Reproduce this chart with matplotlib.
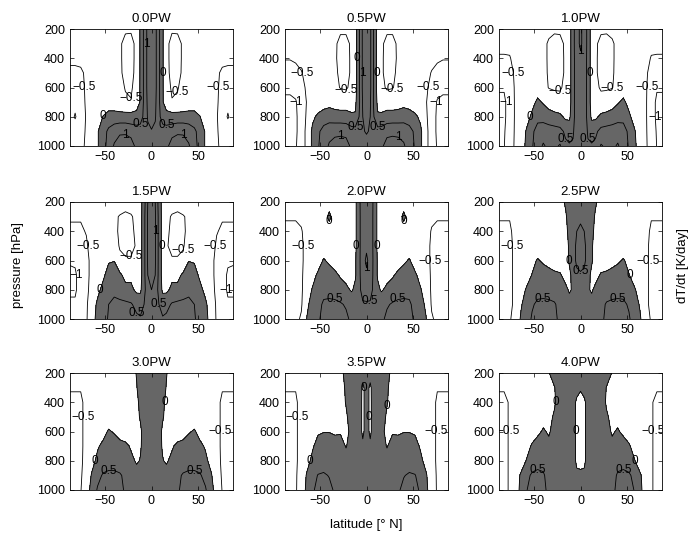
import numpy as np
import matplotlib.pyplot as plt

plt.rcParams['font.family'] = ['Liberation Sans', 'DejaVu Sans']

# latitude (deg N) for one hemisphere, mirrored about the equator when drawn
lat_half = [0, 4, 8, 12, 16, 22, 28, 34, 40, 46, 52, 58, 64, 70, 76, 82, 88]
pressure = [200, 300, 400, 500, 600, 700, 800, 900, 1000]
titles = ['0.0PW', '0.5PW', '1.0PW', '1.5PW', '2.0PW', '2.5PW', '3.0PW', '3.5PW', '4.0PW']
line_levels = [-1, -0.5, 0, 0.5, 1]

# dT/dt [K/day], rows = pressure levels (200 -> 1000 hPa), cols = lat_half
dtdt_00 = [
    [1.4, 1.15, 0.6, 0.05, -0.35, -0.45, -0.45, -0.35, -0.3, -0.25, -0.25, -0.25, -0.25, -0.25, -0.3, -0.3, -0.3],
    [1.4, 1.15, 0.6, 0.05, -0.4, -0.62, -0.6, -0.45, -0.3, -0.25, -0.25, -0.25, -0.25, -0.3, -0.35, -0.4, -0.4],
    [1.4, 1.15, 0.6, 0.05, -0.4, -0.62, -0.6, -0.45, -0.3, -0.25, -0.25, -0.25, -0.3, -0.35, -0.42, -0.42, -0.42],
    [1.4, 1.15, 0.6, 0.05, -0.4, -0.6, -0.58, -0.45, -0.3, -0.25, -0.25, -0.25, -0.3, -0.45, -0.55, -0.58, -0.58],
    [1.4, 1.15, 0.6, 0.05, -0.35, -0.55, -0.52, -0.4, -0.3, -0.25, -0.25, -0.3, -0.35, -0.45, -0.6, -0.7, -0.65],
    [1.35, 1.1, 0.6, 0.05, -0.3, -0.48, -0.45, -0.38, -0.3, -0.3, -0.3, -0.35, -0.4, -0.45, -0.65, -0.85, -0.7],
    [1.3, 1.05, 0.6, 0.3, 0.22, 0.2, 0.2, 0.2, 0.2, 0.2, 0.02, -0.3, -0.4, -0.47, -0.7, -1.05, -0.75],
    [0.95, 0.9, 0.8, 0.7, 0.7, 0.8, 0.9, 0.9, 0.8, 0.6, 0.3, -0.05, -0.35, -0.47, -0.6, -0.7, -0.6],
    [0.8, 0.8, 0.75, 0.75, 0.85, 1.25, 1.35, 1.3, 1.05, 0.7, 0.3, -0.05, -0.35, -0.47, -0.55, -0.55, -0.52],
]
dtdt_05 = [
    [1.4, 1.1, 0.4, -0.2, -0.4, -0.45, -0.45, -0.4, -0.3, -0.3, -0.3, -0.3, -0.3, -0.3, -0.35, -0.4, -0.4],
    [1.4, 1.1, 0.4, -0.2, -0.45, -0.58, -0.58, -0.45, -0.3, -0.3, -0.3, -0.3, -0.3, -0.35, -0.4, -0.45, -0.45],
    [1.4, 1.1, 0.4, -0.2, -0.45, -0.6, -0.6, -0.45, -0.3, -0.3, -0.3, -0.3, -0.35, -0.4, -0.45, -0.48, -0.48],
    [1.4, 1.1, 0.4, -0.2, -0.45, -0.6, -0.58, -0.42, -0.3, -0.3, -0.3, -0.35, -0.4, -0.52, -0.6, -0.65, -0.65],
    [1.4, 1.1, 0.4, -0.2, -0.4, -0.55, -0.52, -0.4, -0.3, -0.3, -0.3, -0.35, -0.45, -0.6, -0.8, -0.9, -0.9],
    [1.35, 1.05, 0.4, -0.1, -0.25, -0.25, -0.25, -0.2, -0.15, -0.2, -0.3, -0.38, -0.48, -0.7, -1.05, -1.1, -1.1],
    [1.3, 1.0, 0.5, 0.05, 0.1, 0.2, 0.2, 0.2, 0.25, 0.2, 0.1, -0.1, -0.45, -0.7, -1.1, -1.2, -1.2],
    [1.05, 0.95, 0.85, 0.7, 0.7, 0.85, 0.9, 0.9, 0.85, 0.7, 0.4, 0.1, -0.4, -0.7, -1.1, -1.2, -1.2],
    [0.8, 0.8, 0.8, 0.8, 0.9, 1.2, 1.2, 1.15, 1.05, 0.8, 0.45, 0.1, -0.4, -0.7, -1.05, -1.1, -1.1],
]
dtdt_10 = [
    [1.05, 0.9, 0.3, -0.2, -0.4, -0.45, -0.45, -0.4, -0.3, -0.3, -0.3, -0.3, -0.3, -0.35, -0.4, -0.4, -0.4],
    [1.05, 0.9, 0.3, -0.2, -0.45, -0.58, -0.6, -0.55, -0.4, -0.3, -0.3, -0.3, -0.3, -0.35, -0.42, -0.42, -0.42],
    [0.95, 0.85, 0.3, -0.2, -0.45, -0.6, -0.62, -0.55, -0.4, -0.3, -0.3, -0.3, -0.3, -0.4, -0.52, -0.53, -0.53],
    [0.9, 0.8, 0.3, -0.2, -0.45, -0.6, -0.6, -0.55, -0.38, -0.3, -0.3, -0.3, -0.35, -0.45, -0.6, -0.7, -0.7],
    [0.9, 0.8, 0.3, -0.2, -0.4, -0.55, -0.55, -0.52, -0.35, -0.25, -0.3, -0.3, -0.35, -0.45, -0.7, -0.95, -0.95],
    [0.9, 0.8, 0.3, -0.2, -0.3, -0.35, -0.3, -0.2, -0.05, 0.1, -0.15, -0.3, -0.35, -0.45, -0.75, -1.1, -1.1],
    [0.85, 0.75, 0.35, -0.1, -0.1, 0.1, 0.15, 0.2, 0.3, 0.35, 0.1, -0.2, -0.35, -0.45, -0.75, -1.1, -1.1],
    [0.8, 0.75, 0.45, 0.3, 0.4, 0.65, 0.7, 0.75, 0.8, 0.7, 0.4, 0.05, -0.3, -0.45, -0.7, -1.05, -1.05],
    [0.6, 0.6, 0.55, 0.55, 0.6, 1.05, 0.9, 0.9, 1.05, 0.8, 0.45, 0.1, -0.25, -0.45, -0.65, -1.02, -1.02],
]
dtdt_15 = [
    [1.2, 1.0, 0.3, -0.2, -0.35, -0.4, -0.4, -0.35, -0.3, -0.3, -0.3, -0.3, -0.3, -0.3, -0.3, -0.3, -0.3],
    [1.2, 1.05, 0.35, -0.2, -0.45, -0.52, -0.55, -0.52, -0.45, -0.3, -0.3, -0.3, -0.35, -0.45, -0.47, -0.47, -0.47],
    [1.2, 1.05, 0.35, -0.2, -0.45, -0.55, -0.58, -0.55, -0.42, -0.3, -0.3, -0.3, -0.35, -0.48, -0.55, -0.55, -0.55],
    [1.2, 1.05, 0.35, -0.2, -0.48, -0.55, -0.55, -0.52, -0.4, -0.3, -0.3, -0.3, -0.35, -0.55, -0.6, -0.65, -0.65],
    [1.2, 1.05, 0.35, -0.2, -0.4, -0.48, -0.48, -0.45, -0.02, -0.05, -0.3, -0.35, -0.4, -0.6, -0.8, -0.95, -0.95],
    [1.1, 1.0, 0.35, -0.2, -0.15, -0.1, -0.15, 0.1, 0.3, 0.2, -0.1, -0.3, -0.4, -0.6, -0.85, -1.05, -1.1],
    [1.0, 0.8, 0.35, -0.1, -0.1, 0.1, 0.15, 0.3, 0.4, 0.35, 0.15, -0.15, -0.35, -0.6, -0.85, -1.05, -1.05],
    [0.85, 0.75, 0.5, 0.3, 0.35, 0.55, 0.6, 0.6, 0.6, 0.5, 0.3, 0.1, -0.3, -0.55, -0.8, -0.95, -0.95],
    [0.7, 0.7, 0.6, 0.55, 0.6, 0.8, 0.85, 0.8, 0.75, 0.55, 0.3, 0.15, -0.2, -0.55, -0.75, -0.9, -0.9],
]
dtdt_20 = [
    [1.0, 0.9, 0.35, -0.1, -0.25, -0.3, -0.3, -0.3, -0.3, -0.3, -0.3, -0.3, -0.3, -0.35, -0.4, -0.42, -0.42],
    [0.9, 0.85, 0.35, -0.1, -0.25, -0.3, -0.3, -0.3, 0.15, -0.3, -0.3, -0.3, -0.35, -0.45, -0.48, -0.48, -0.48],
    [0.9, 0.85, 0.35, -0.1, -0.25, -0.3, -0.3, -0.3, -0.3, -0.3, -0.3, -0.3, -0.4, -0.52, -0.55, -0.55, -0.55],
    [0.95, 0.85, 0.35, -0.1, -0.25, -0.3, -0.3, -0.3, -0.3, -0.3, -0.3, -0.3, -0.4, -0.55, -0.6, -0.6, -0.6],
    [1.05, 0.9, 0.35, -0.05, -0.2, -0.25, -0.25, -0.2, -0.1, 0.05, -0.25, -0.3, -0.4, -0.55, -0.6, -0.65, -0.65],
    [0.95, 0.85, 0.35, -0.05, -0.1, -0.15, -0.05, 0.1, 0.25, 0.3, 0.1, -0.2, -0.35, -0.55, -0.6, -0.7, -0.7],
    [0.7, 0.65, 0.4, 0.1, -0.05, 0.1, 0.2, 0.3, 0.35, 0.4, 0.3, 0.05, -0.3, -0.55, -0.6, -0.7, -0.7],
    [0.45, 0.45, 0.35, 0.3, 0.3, 0.45, 0.55, 0.6, 0.6, 0.55, 0.4, 0.2, -0.1, -0.55, -0.6, -0.65, -0.65],
    [0.4, 0.4, 0.35, 0.35, 0.4, 0.6, 0.65, 0.7, 0.7, 0.6, 0.45, 0.3, 0.02, -0.45, -0.6, -0.6, -0.6],
]
dtdt_25 = [
    [0.4, 0.35, 0.3, 0.2, 0.05, -0.15, -0.25, -0.3, -0.3, -0.3, -0.3, -0.3, -0.3, -0.35, -0.4, -0.42, -0.42],
    [0.45, 0.4, 0.3, 0.15, -0.05, -0.2, -0.3, -0.3, -0.3, -0.3, -0.3, -0.3, -0.3, -0.35, -0.48, -0.48, -0.48],
    [0.55, 0.5, 0.3, 0.1, -0.1, -0.25, -0.3, -0.3, -0.3, -0.3, -0.3, -0.3, -0.3, -0.4, -0.55, -0.55, -0.55],
    [0.65, 0.6, 0.3, 0.05, -0.15, -0.25, -0.3, -0.3, -0.3, -0.3, -0.3, -0.3, -0.3, -0.42, -0.58, -0.6, -0.6],
    [0.65, 0.6, 0.3, 0.05, -0.15, -0.25, -0.25, -0.2, -0.1, 0.05, -0.15, -0.3, -0.3, -0.42, -0.58, -0.6, -0.6],
    [0.45, 0.4, 0.15, -0.1, -0.15, 0.05, 0.1, 0.2, 0.3, 0.3, 0.02, -0.2, -0.3, -0.42, -0.58, -0.6, -0.6],
    [0.3, 0.25, 0.05, -0.05, 0.1, 0.2, 0.25, 0.3, 0.35, 0.35, 0.25, 0.05, -0.2, -0.42, -0.58, -0.6, -0.6],
    [0.3, 0.3, 0.2, 0.15, 0.2, 0.35, 0.55, 0.6, 0.6, 0.58, 0.45, 0.2, -0.05, -0.42, -0.58, -0.6, -0.6],
    [0.3, 0.3, 0.25, 0.2, 0.25, 0.4, 0.6, 0.65, 0.65, 0.6, 0.55, 0.3, 0.05, -0.3, -0.55, -0.6, -0.6],
]
dtdt_30 = [
    [0.5, 0.45, 0.35, 0.25, 0.02, -0.15, -0.25, -0.3, -0.3, -0.3, -0.3, -0.3, -0.3, -0.35, -0.45, -0.48, -0.48],
    [0.45, 0.4, 0.3, 0.15, -0.02, -0.2, -0.25, -0.3, -0.3, -0.3, -0.3, -0.3, -0.3, -0.38, -0.48, -0.48, -0.48],
    [0.4, 0.35, 0.3, 0.1, -0.1, -0.2, -0.25, -0.3, -0.3, -0.3, -0.3, -0.3, -0.3, -0.42, -0.55, -0.55, -0.55],
    [0.4, 0.35, 0.25, 0.05, -0.15, -0.2, -0.25, -0.25, -0.25, -0.25, -0.25, -0.3, -0.3, -0.42, -0.55, -0.58, -0.58],
    [0.4, 0.35, 0.2, -0.1, -0.15, -0.2, -0.25, -0.2, -0.05, 0.05, -0.15, -0.3, -0.3, -0.42, -0.55, -0.6, -0.6],
    [0.35, 0.3, 0.15, -0.05, -0.1, -0.05, 0.1, 0.15, 0.25, 0.3, 0.1, -0.05, -0.25, -0.42, -0.55, -0.6, -0.6],
    [0.3, 0.25, 0.15, 0.02, -0.05, 0.1, 0.2, 0.25, 0.3, 0.3, 0.25, 0.1, -0.15, -0.4, -0.55, -0.6, -0.6],
    [0.3, 0.3, 0.25, 0.2, 0.15, 0.25, 0.4, 0.55, 0.6, 0.6, 0.55, 0.35, 0.05, -0.3, -0.55, -0.6, -0.6],
    [0.3, 0.3, 0.3, 0.25, 0.2, 0.3, 0.45, 0.6, 0.65, 0.65, 0.6, 0.55, 0.15, -0.2, -0.52, -0.6, -0.6],
]
dtdt_35 = [
    [0.3, 0.2, 0.3, 0.3, 0.25, 0.1, -0.1, -0.2, -0.25, -0.25, -0.25, -0.25, -0.3, -0.35, -0.45, -0.48, -0.48],
    [0.2, -0.1, 0.3, 0.3, 0.2, 0.05, -0.15, -0.2, -0.25, -0.25, -0.25, -0.25, -0.3, -0.35, -0.48, -0.48, -0.48],
    [0.2, -0.1, 0.25, 0.25, 0.15, 0.02, -0.15, -0.2, -0.2, -0.2, -0.2, -0.25, -0.3, -0.38, -0.55, -0.55, -0.55],
    [0.2, -0.1, 0.25, 0.25, 0.15, -0.05, -0.15, -0.15, -0.15, -0.15, -0.15, -0.2, -0.3, -0.38, -0.55, -0.58, -0.58],
    [0.2, -0.1, 0.25, 0.25, 0.1, -0.1, -0.05, -0.05, -0.02, -0.02, -0.05, -0.25, -0.3, -0.38, -0.55, -0.6, -0.6],
    [0.3, 0.1, 0.3, 0.3, 0.2, -0.03, 0.2, 0.15, 0.25, 0.25, 0.15, -0.05, -0.3, -0.38, -0.55, -0.6, -0.6],
    [0.35, 0.35, 0.35, 0.35, 0.35, 0.2, 0.25, 0.25, 0.3, 0.3, 0.25, 0.1, -0.15, -0.38, -0.55, -0.6, -0.6],
    [0.35, 0.35, 0.35, 0.35, 0.35, 0.3, 0.3, 0.35, 0.48, 0.55, 0.52, 0.35, 0.05, -0.3, -0.55, -0.6, -0.6],
    [0.35, 0.35, 0.35, 0.35, 0.35, 0.3, 0.3, 0.45, 0.6, 0.65, 0.6, 0.45, 0.1, -0.25, -0.55, -0.6, -0.6],
]
dtdt_40 = [
    [0.3, 0.3, 0.3, 0.3, 0.3, 0.3, 0.2, -0.02, -0.15, -0.25, -0.25, -0.25, -0.3, -0.35, -0.4, -0.45, -0.45],
    [0.05, 0.2, 0.3, 0.3, 0.3, 0.25, -0.02, -0.1, -0.15, -0.2, -0.25, -0.25, -0.3, -0.35, -0.42, -0.48, -0.48],
    [-0.15, -0.1, 0.2, 0.3, 0.3, 0.2, -0.05, -0.1, -0.15, -0.2, -0.2, -0.25, -0.3, -0.35, -0.48, -0.55, -0.55],
    [-0.2, -0.1, 0.2, 0.3, 0.3, 0.25, 0.05, -0.1, -0.15, -0.2, -0.2, -0.25, -0.3, -0.35, -0.48, -0.55, -0.55],
    [-0.2, -0.1, 0.2, 0.3, 0.3, 0.3, 0.15, -0.05, 0.05, -0.1, -0.2, -0.25, -0.3, -0.35, -0.48, -0.55, -0.55],
    [-0.2, -0.1, 0.2, 0.3, 0.3, 0.3, 0.25, 0.1, 0.25, 0.2, 0.05, -0.15, -0.3, -0.35, -0.48, -0.55, -0.55],
    [-0.15, -0.1, 0.2, 0.3, 0.3, 0.3, 0.3, 0.3, 0.35, 0.35, 0.2, 0.02, -0.2, -0.35, -0.48, -0.55, -0.55],
    [0.1, 0.1, 0.25, 0.3, 0.3, 0.3, 0.3, 0.35, 0.55, 0.6, 0.58, 0.35, 0.05, -0.2, -0.48, -0.55, -0.55],
    [0.2, 0.2, 0.25, 0.3, 0.3, 0.3, 0.3, 0.4, 0.6, 0.65, 0.65, 0.48, 0.1, -0.2, -0.48, -0.55, -0.55],
]
panels = [dtdt_00, dtdt_05, dtdt_10, dtdt_15, dtdt_20, dtdt_25, dtdt_30, dtdt_35, dtdt_40]

lat = np.concatenate([-np.array(lat_half[:0:-1]), lat_half])


def mirror(half):
    half = np.array(half)
    return np.hstack([half[:, :0:-1], half])


def fmt(v):
    return f'{v:g}'.replace('-', '\u2212')


fig = plt.figure(figsize=(6.99, 5.38), dpi=100)
W, H = 699.0, 538.0
lefts = [70, 285, 499]
tops = [29, 202, 373]

for i, (data, title) in enumerate(zip(panels, titles)):
    r, c = divmod(i, 3)
    ax = fig.add_axes([lefts[c] / W, 1 - (tops[r] + 117) / H, 163 / W, 117 / H])
    z = mirror(data)
    ax.contourf(lat, pressure, z, levels=[0, 10], colors=['#666666'])
    cs = ax.contour(lat, pressure, z, levels=line_levels, colors='k',
                    linewidths=0.6, linestyles='solid')
    labels = ax.clabel(cs, fmt=fmt, fontsize=8.5, inline=False)
    for t in labels:
        t.set_rotation(0)
    ax.set_xlim(-87.5, 87.5)
    ax.set_ylim(1000, 200)
    ax.set_xticks([-50, 0, 50])
    ax.set_yticks([200, 400, 600, 800, 1000])
    ax.set_xticklabels([fmt(v) for v in [-50, 0, 50]])
    ax.tick_params(direction='in', top=True, right=True, length=3,
                   width=0.5, labelsize=9)
    for s in ax.spines.values():
        s.set_linewidth(0.6)
    ax.set_title(title, fontsize=9.5, pad=5)

fig.text(0.026, 0.507, 'pressure [hPa]', rotation=90, ha='center', va='center', fontsize=9.5)
fig.text(0.977, 0.507, 'dT/dt [K/day]', rotation=90, ha='center', va='center', fontsize=9.5)
fig.text(0.524, 0.024, 'latitude [\u00b0 N]', ha='center', va='center', fontsize=9.5)

fig.savefig('out.png', dpi=100)
